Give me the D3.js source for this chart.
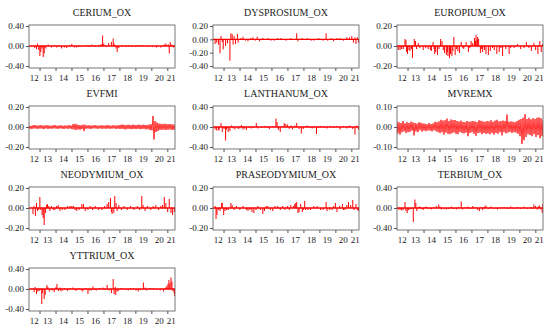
<!DOCTYPE html>
<html>
<head>
<meta charset="utf-8">
<script src="https://cdn.jsdelivr.net/npm/d3@7"></script>
<style>
  body { margin: 0; background: #fff; }
</style>
</head>
<body>
<svg id="chart" width="550" height="328"></svg>
<script>
// sample runs from about May 2012 to June 2021 (decimal years)
const startYear = 2012.34;
const endYear = 2021.48;
const yearTicks = [2013, 2014, 2015, 2016, 2017, 2018, 2019, 2020, 2021];
const yearLabels = ["12", "13", "14", "15", "16", "17", "18", "19", "20", "21"];

// sparse return series: [decimal year, return] for each visible jump, zero otherwise
const cerium = [[2012.70,-0.04],[2012.81,-0.06],[2012.87,0.05],[2012.95,-0.08],[2013.02,-0.20],[2013.08,-0.12],[2013.16,-0.05],[2013.23,-0.22],[2013.29,-0.15],[2013.39,-0.05],[2013.54,0.03],[2013.75,-0.03],[2013.92,0.02],[2014.07,-0.03],[2014.22,0.02],[2014.38,-0.05],[2014.55,-0.03],[2014.70,-0.04],[2014.87,0.02],[2015.02,0.04],[2015.18,-0.03],[2015.33,-0.03],[2015.48,-0.02],[2015.65,-0.02],[2015.96,0.02],[2016.11,-0.02],[2016.28,0.03],[2016.49,-0.02],[2016.70,0.02],[2016.85,0.04],[2016.95,0.21],[2017.02,0.05],[2017.16,-0.02],[2017.33,0.06],[2017.50,0.08],[2017.61,0.15],[2017.67,0.05],[2017.79,-0.05],[2017.86,-0.12],[2017.96,-0.04],[2018.17,0.02],[2018.38,-0.02],[2018.59,0.02],[2018.81,-0.02],[2019.02,-0.02],[2019.23,0.02],[2019.44,0.02],[2019.75,-0.02],[2020.07,-0.02],[2020.32,-0.03],[2020.59,-0.03],[2020.81,0.03],[2020.91,0.05],[2021.06,0.03],[2021.12,-0.15],[2021.18,0.08],[2021.29,0.03],[2021.39,-0.03]];

const dysprosium = [[2012.47,-0.07],[2012.57,-0.05],[2012.68,-0.08],[2012.78,-0.21],[2012.84,0.05],[2012.92,-0.04],[2012.98,-0.15],[2013.13,-0.10],[2013.25,-0.06],[2013.40,-0.32],[2013.46,0.09],[2013.54,0.08],[2013.60,-0.08],[2013.66,0.05],[2013.75,-0.07],[2013.87,0.08],[2013.91,-0.05],[2014.08,0.02],[2014.22,0.04],[2014.37,-0.02],[2014.53,-0.03],[2014.70,0.02],[2014.84,0.03],[2014.98,-0.02],[2015.11,0.04],[2015.25,-0.03],[2015.46,0.02],[2015.77,0.02],[2015.97,-0.02],[2016.18,-0.02],[2016.39,0.02],[2016.59,0.02],[2016.90,-0.02],[2017.21,0.02],[2017.58,0.09],[2017.66,-0.03],[2017.93,0.02],[2018.24,0.02],[2018.49,-0.02],[2018.65,-0.02],[2018.96,0.02],[2019.23,-0.02],[2019.42,0.09],[2019.52,-0.02],[2019.73,0.02],[2019.89,-0.03],[2020.10,0.02],[2020.30,0.02],[2020.51,-0.02],[2020.72,0.03],[2020.88,0.03],[2021.03,0.05],[2021.13,-0.05],[2021.23,0.03],[2021.29,-0.07],[2021.38,0.03],[2021.44,-0.05]];

const europium = [[2012.42,-0.04],[2012.53,-0.04],[2012.63,-0.03],[2012.73,-0.03],[2012.84,0.07],[2012.90,0.06],[2012.94,-0.06],[2013.00,-0.08],[2013.09,-0.04],[2013.15,-0.05],[2013.25,-0.03],[2013.31,-0.12],[2013.42,0.07],[2013.50,0.05],[2013.56,-0.03],[2013.67,0.03],[2013.77,-0.02],[2013.98,-0.04],[2014.14,-0.02],[2014.29,-0.03],[2014.43,-0.04],[2014.49,-0.05],[2014.60,0.04],[2014.66,-0.03],[2014.70,-0.08],[2014.76,-0.06],[2014.87,-0.09],[2014.97,-0.03],[2015.07,0.07],[2015.16,0.05],[2015.24,-0.04],[2015.32,-0.07],[2015.43,-0.09],[2015.49,-0.06],[2015.53,-0.10],[2015.63,-0.12],[2015.69,-0.08],[2015.78,-0.10],[2015.84,-0.05],[2015.90,0.09],[2015.98,-0.09],[2016.07,-0.03],[2016.15,-0.05],[2016.25,-0.07],[2016.36,0.04],[2016.46,-0.02],[2016.52,-0.03],[2016.67,0.04],[2016.81,-0.06],[2016.90,-0.02],[2016.98,0.05],[2017.08,0.03],[2017.19,0.08],[2017.25,0.05],[2017.29,0.11],[2017.35,0.06],[2017.39,0.09],[2017.45,0.07],[2017.56,-0.07],[2017.64,-0.03],[2017.70,-0.06],[2017.81,-0.04],[2017.91,-0.08],[2018.06,-0.09],[2018.18,-0.05],[2018.32,-0.02],[2018.43,-0.04],[2018.59,-0.08],[2018.74,-0.06],[2018.84,-0.02],[2018.95,-0.10],[2019.15,-0.03],[2019.36,-0.08],[2019.46,-0.02],[2019.67,-0.02],[2019.88,0.02],[2020.08,-0.03],[2020.29,-0.02],[2020.44,0.04],[2020.60,-0.02],[2020.75,-0.05],[2020.91,0.03],[2021.02,-0.04],[2021.16,-0.08],[2021.28,0.05],[2021.37,-0.06],[2021.45,0.02]];

const lanthanum = [[2012.47,-0.05],[2012.57,-0.07],[2012.68,-0.06],[2012.72,-0.07],[2012.84,0.08],[2012.92,-0.10],[2013.03,-0.04],[2013.13,-0.27],[2013.19,-0.05],[2013.29,-0.10],[2013.40,-0.08],[2013.50,0.03],[2013.60,-0.03],[2013.71,-0.05],[2013.91,-0.04],[2014.02,-0.03],[2014.12,0.04],[2014.22,-0.05],[2014.32,-0.03],[2014.43,-0.06],[2014.59,-0.02],[2014.74,-0.03],[2014.90,-0.02],[2015.05,0.08],[2015.15,-0.03],[2015.36,-0.02],[2015.56,0.02],[2015.73,-0.02],[2015.87,-0.04],[2016.08,0.02],[2016.28,0.17],[2016.35,0.10],[2016.43,-0.06],[2016.55,-0.10],[2016.68,0.02],[2016.80,0.08],[2016.90,0.06],[2017.01,0.05],[2017.11,-0.04],[2017.21,0.03],[2017.31,-0.05],[2017.46,0.03],[2017.58,0.08],[2017.73,-0.04],[2017.87,-0.13],[2017.99,-0.04],[2018.14,0.02],[2018.24,0.03],[2018.41,-0.02],[2018.55,-0.03],[2018.70,0.02],[2018.82,-0.14],[2018.94,-0.02],[2019.07,0.02],[2019.27,-0.02],[2019.48,-0.03],[2019.69,0.02],[2019.89,-0.02],[2020.10,0.02],[2020.30,-0.05],[2020.51,0.02],[2020.72,-0.03],[2020.82,0.02],[2020.92,0.03],[2021.09,-0.04],[2021.23,-0.15],[2021.34,0.03],[2021.44,-0.05]];

const neodymium = [[2012.59,-0.06],[2012.66,0.02],[2012.74,-0.08],[2012.81,0.05],[2012.87,-0.03],[2012.95,-0.02],[2013.02,0.11],[2013.08,-0.02],[2013.16,-0.07],[2013.23,-0.10],[2013.29,-0.17],[2013.37,-0.05],[2013.44,0.03],[2013.50,0.04],[2013.58,0.02],[2013.65,-0.03],[2013.75,0.02],[2013.86,-0.02],[2013.96,-0.02],[2014.07,0.02],[2014.17,0.03],[2014.28,-0.03],[2014.43,-0.02],[2014.59,-0.02],[2014.76,0.02],[2014.91,0.02],[2015.02,0.02],[2015.12,0.02],[2015.23,-0.02],[2015.33,-0.03],[2015.48,-0.02],[2015.65,0.04],[2015.75,0.04],[2015.86,-0.03],[2016.03,-0.02],[2016.17,0.02],[2016.32,-0.02],[2016.49,0.02],[2016.70,-0.02],[2016.91,-0.02],[2017.08,0.02],[2017.23,0.04],[2017.33,0.06],[2017.44,0.10],[2017.50,-0.04],[2017.54,-0.06],[2017.65,-0.05],[2017.71,0.12],[2017.79,0.05],[2017.86,-0.03],[2017.96,0.03],[2018.13,-0.02],[2018.28,0.02],[2018.49,-0.02],[2018.70,0.02],[2018.91,-0.02],[2019.12,0.02],[2019.27,-0.02],[2019.40,0.12],[2019.48,0.03],[2019.61,-0.03],[2019.75,0.02],[2019.96,-0.02],[2020.11,0.02],[2020.28,0.03],[2020.45,-0.02],[2020.59,0.02],[2020.70,0.03],[2020.81,0.11],[2020.91,0.05],[2021.02,-0.04],[2021.12,0.09],[2021.23,-0.05],[2021.33,-0.07],[2021.44,-0.04]];

const praseodymium = [[2012.47,0.02],[2012.53,-0.11],[2012.59,-0.07],[2012.68,-0.02],[2012.78,-0.03],[2012.88,0.05],[2012.92,0.05],[2013.01,-0.07],[2013.09,-0.03],[2013.19,-0.02],[2013.29,-0.02],[2013.46,0.05],[2013.54,0.03],[2013.66,-0.02],[2013.81,0.02],[2014.02,-0.02],[2014.22,0.02],[2014.43,-0.02],[2014.53,-0.03],[2014.65,-0.02],[2014.78,-0.04],[2014.90,-0.05],[2015.03,-0.02],[2015.15,0.02],[2015.31,-0.02],[2015.46,-0.06],[2015.56,-0.03],[2015.66,0.02],[2015.77,0.02],[2015.93,-0.02],[2016.08,-0.03],[2016.22,0.02],[2016.39,0.02],[2016.55,-0.02],[2016.70,0.02],[2016.84,-0.02],[2017.01,0.02],[2017.11,-0.02],[2017.21,0.03],[2017.38,0.02],[2017.46,0.04],[2017.52,0.05],[2017.58,0.06],[2017.66,-0.05],[2017.73,-0.04],[2017.83,0.04],[2017.93,-0.04],[2017.99,-0.02],[2018.08,0.07],[2018.14,-0.02],[2018.28,-0.02],[2018.45,-0.02],[2018.65,0.02],[2018.86,0.02],[2019.07,-0.02],[2019.23,-0.02],[2019.42,0.06],[2019.48,-0.03],[2019.65,-0.02],[2019.79,-0.02],[2019.89,0.02],[2020.00,0.05],[2020.10,-0.04],[2020.26,0.02],[2020.44,0.04],[2020.51,-0.02],[2020.61,-0.02],[2020.72,0.03],[2020.82,0.06],[2020.96,0.03],[2021.09,0.08],[2021.17,-0.02],[2021.29,0.04],[2021.38,-0.02],[2021.44,-0.03]];

const terbium = [[2012.42,-0.03],[2012.53,-0.04],[2012.63,-0.05],[2012.73,-0.04],[2012.84,0.12],[2012.90,-0.06],[2012.98,-0.10],[2013.07,-0.04],[2013.15,-0.03],[2013.25,-0.02],[2013.36,-0.28],[2013.46,0.17],[2013.52,0.10],[2013.58,-0.06],[2013.67,0.02],[2013.77,0.03],[2013.87,-0.02],[2013.98,-0.04],[2014.08,0.02],[2014.18,0.03],[2014.33,-0.02],[2014.49,-0.03],[2014.66,0.02],[2014.80,0.04],[2014.95,0.07],[2015.03,0.03],[2015.11,-0.03],[2015.28,-0.02],[2015.43,-0.03],[2015.57,-0.02],[2015.74,0.03],[2015.90,-0.02],[2016.05,-0.03],[2016.19,0.02],[2016.36,0.13],[2016.46,-0.03],[2016.61,0.02],[2016.77,0.03],[2016.94,-0.02],[2017.08,0.04],[2017.23,0.02],[2017.39,-0.04],[2017.50,-0.06],[2017.60,0.02],[2017.70,-0.04],[2017.81,0.03],[2017.91,0.05],[2018.06,-0.02],[2018.22,0.03],[2018.43,-0.02],[2018.63,-0.03],[2018.84,0.02],[2019.05,0.02],[2019.26,-0.02],[2019.46,0.03],[2019.67,-0.02],[2019.88,0.02],[2020.08,-0.02],[2020.29,0.03],[2020.50,-0.02],[2020.70,0.02],[2020.81,-0.02],[2020.91,0.07],[2021.02,0.04],[2021.12,-0.03],[2021.20,0.03],[2021.26,0.05],[2021.35,-0.03],[2021.43,-0.10],[2021.47,0.08]];

const yttrium = [[2012.66,-0.06],[2012.72,0.04],[2012.81,-0.10],[2012.89,-0.05],[2012.97,-0.04],[2013.06,-0.02],[2013.14,-0.30],[2013.18,-0.08],[2013.29,-0.20],[2013.35,-0.12],[2013.46,0.08],[2013.52,0.04],[2013.61,-0.05],[2013.71,-0.02],[2013.82,-0.03],[2013.92,-0.06],[2014.03,0.04],[2014.09,0.10],[2014.19,-0.04],[2014.28,0.03],[2014.34,-0.05],[2014.45,-0.03],[2014.55,0.02],[2014.66,-0.02],[2014.76,-0.04],[2014.91,0.02],[2015.08,0.03],[2015.18,-0.02],[2015.29,-0.04],[2015.46,0.02],[2015.61,-0.03],[2015.71,-0.05],[2015.88,0.02],[2016.03,-0.10],[2016.13,-0.03],[2016.24,-0.03],[2016.34,0.05],[2016.45,-0.02],[2016.55,-0.03],[2016.76,0.02],[2016.97,0.03],[2017.10,-0.02],[2017.23,0.08],[2017.36,-0.03],[2017.50,-0.08],[2017.61,0.20],[2017.67,-0.10],[2017.74,0.04],[2017.77,-0.12],[2017.86,-0.05],[2017.92,-0.04],[2018.06,0.02],[2018.24,0.02],[2018.41,-0.02],[2018.55,-0.03],[2018.70,0.02],[2018.87,0.02],[2019.04,-0.03],[2019.18,-0.05],[2019.33,-0.02],[2019.50,0.13],[2019.61,0.03],[2019.71,-0.03],[2019.92,0.02],[2020.13,0.02],[2020.34,-0.02],[2020.55,-0.03],[2020.76,-0.05],[2020.87,0.03],[2020.97,0.06],[2021.04,0.10],[2021.10,0.18],[2021.16,0.12],[2021.23,0.23],[2021.29,0.15],[2021.35,-0.04],[2021.42,-0.08],[2021.46,-0.14]];

// dense daily-looking index returns, one value per regular step from start to end
const evfmi = [0.015,-0.018,0.012,-0.02,0.018,-0.014,0.02,-0.016,0.013,-0.019,0.016,
  -0.015,0.02,-0.017,0.014,-0.021,0.016,-0.013,0.018,-0.02,0.015,-0.016,0.012,-0.018,0.017,-0.014,0.019,
  -0.016,0.013,-0.019,0.015,-0.014,0.018,-0.017,0.012,-0.02,0.016,-0.015,0.014,-0.018,0.02,-0.016,0.015,
  -0.022,0.028,-0.025,0.032,-0.03,0.026,-0.024,0.02,-0.028,0.018,-0.02,0.024,-0.042,0.022,-0.018,0.016,
  -0.015,0.018,-0.02,0.014,-0.017,0.016,-0.013,0.019,-0.016,0.015,-0.018,0.013,-0.014,0.017,-0.019,0.016,
  -0.016,0.014,-0.018,0.02,-0.015,0.017,-0.019,0.013,-0.016,0.018,-0.014,0.015,-0.02,0.016,-0.017,0.019,
  -0.02,0.022,-0.018,0.025,-0.022,0.019,-0.024,0.021,-0.018,0.023,-0.02,0.018,-0.022,0.024,-0.019,0.02,
  -0.021,0.02,-0.018,0.024,-0.022,0.019,-0.02,0.023,-0.019,0.021,-0.024,0.02,-0.022,0.025,-0.03,0.028,
  -0.035,0.11,-0.125,0.06,-0.05,0.045,-0.04,0.035,-0.03,0.032,-0.028,0.03,-0.026,0.033,-0.03,0.028,
  -0.027,0.03,-0.025,0.028,-0.03,0.026,-0.028,0.024];

const mvremx = [0.028,-0.032,0.024,-0.038,0.02,-0.026,0.03,-0.022,0.018,-0.03,0.024,
  -0.026,0.02,-0.024,0.027,-0.018,0.023,-0.042,0.02,-0.022,0.017,-0.026,0.024,-0.016,0.021,-0.023,0.018,
  -0.018,0.016,-0.021,0.014,-0.017,0.02,-0.018,0.015,-0.022,0.018,-0.016,0.026,-0.021,0.024,-0.026,0.028,
  -0.03,0.036,-0.026,0.032,-0.038,0.034,-0.028,0.042,-0.034,0.03,-0.036,0.038,-0.031,0.034,-0.027,0.035,
  -0.034,0.03,-0.036,0.027,-0.025,0.032,-0.03,0.025,-0.032,0.024,-0.028,0.03,-0.046,0.026,-0.03,0.028,
  -0.026,0.03,-0.034,0.028,-0.044,0.025,-0.03,0.034,-0.028,0.031,-0.036,0.028,-0.03,0.026,-0.034,0.03,
  -0.032,0.028,-0.036,0.034,-0.03,0.026,-0.038,0.032,-0.03,0.036,-0.034,0.028,-0.026,0.03,-0.042,0.032,
  -0.026,0.03,-0.032,0.062,-0.028,0.026,-0.024,0.028,-0.03,0.026,-0.026,0.024,-0.028,0.03,-0.034,0.036,
  -0.046,0.04,-0.085,0.046,-0.066,0.064,-0.05,0.04,-0.036,0.046,-0.04,0.038,-0.046,0.044,-0.036,0.04,
  -0.05,0.046,-0.04,0.048,-0.056,0.044,-0.046,0.036];

const panels = [
  {name: "CERIUM_OX",       data: cerium,       dense: false, domain: [-0.4, 0.4], ticks: [0.4, 0, -0.4]},
  {name: "DYSPROSIUM_OX",   data: dysprosium,   dense: false, domain: [-0.4, 0.2], ticks: [0.2, 0, -0.2, -0.4]},
  {name: "EUROPIUM_OX",     data: europium,     dense: false, domain: [-0.2, 0.2], ticks: [0.2, 0, -0.2]},
  {name: "EVFMI",           data: evfmi,        dense: true,  domain: [-0.2, 0.2], ticks: [0.2, 0, -0.2]},
  {name: "LANTHANUM_OX",    data: lanthanum,    dense: false, domain: [-0.4, 0.4], ticks: [0.4, 0, -0.4]},
  {name: "MVREMX",          data: mvremx,       dense: true,  domain: [-0.1, 0.1], ticks: [0.1, 0, -0.1]},
  {name: "NEODYMIUM_OX",    data: neodymium,    dense: false, domain: [-0.2, 0.2], ticks: [0.2, 0, -0.2]},
  {name: "PRASEODYMIUM_OX", data: praseodymium, dense: false, domain: [-0.2, 0.2], ticks: [0.2, 0, -0.2]},
  {name: "TERBIUM_OX",      data: terbium,      dense: false, domain: [-0.4, 0.4], ticks: [0.4, 0, -0.4]},
  {name: "YTTRIUM_OX",      data: yttrium,      dense: false, domain: [-0.4, 0.4], ticks: [0.4, 0, -0.4]}
];

const colLeft = [29, 213, 397];
const rowTop = [25, 106, 187, 268];
const pw = 146, ph = 43;
const red = "#ff0000";
const serif = "'Liberation Serif', 'Times New Roman', serif";

const svg = d3.select("#chart");

// label sits in the middle of each (possibly partial) year
const labelPos = yearLabels.map(function(s) {
  const yr = 2000 + (+s);
  const a = Math.max(yr, startYear), b = Math.min(yr + 1, endYear);
  return (a + b) / 2;
});

panels.forEach(function(p, i) {
  const g = svg.append("g")
      .attr("transform", "translate(" + colLeft[i % 3] + "," + rowTop[Math.floor(i / 3)] + ")");
  const x = d3.scaleLinear().domain([startYear, endYear]).range([0, pw]);
  const y = d3.scaleLinear().domain(p.domain).range([ph - 2, 1]);

  g.append("clipPath").attr("id", "clip" + i)
    .append("rect").attr("width", pw).attr("height", ph);
  const plot = g.append("g").attr("clip-path", "url(#clip" + i + ")");

  if (p.dense) {
    const step = (endYear - startYear) / (p.data.length - 1);
    const line = d3.line()
        .x(function(d, k) { return x(startYear + k * step); })
        .y(function(d) { return y(d); });
    plot.append("path")
        .attr("d", line(p.data))
        .attr("fill", "none")
        .attr("stroke", red)
        .attr("stroke-width", 0.8);
  } else {
    plot.append("line")
        .attr("x1", x(startYear)).attr("x2", x(endYear))
        .attr("y1", y(0)).attr("y2", y(0))
        .attr("stroke", red).attr("stroke-width", 1.4);
    plot.selectAll("line.spike")
        .data(p.data)
        .enter()
        .append("line")
        .attr("class", "spike")
        .attr("x1", function(d) { return x(d[0]); })
        .attr("x2", function(d) { return x(d[0]); })
        .attr("y1", y(0))
        .attr("y2", function(d) { return y(d[1]); })
        .attr("stroke", red)
        .attr("stroke-width", 1);
  }

  // frame
  g.append("rect")
      .attr("x", 0).attr("y", 0)
      .attr("width", pw).attr("height", ph)
      .attr("fill", "none")
      .attr("stroke", "#555")
      .attr("stroke-width", 0.8);

  const yAxis = g.append("g")
      .call(d3.axisLeft(y).tickValues(p.ticks).tickSize(3).tickPadding(2)
        .tickFormat(function(d) { return d.toFixed(2); }));
  yAxis.attr("font-family", serif).attr("font-size", 9);
  yAxis.select(".domain").remove();
  yAxis.selectAll("line").attr("stroke", "#555");
  yAxis.selectAll("text").attr("fill", "#222");

  const xAxis = g.append("g")
      .attr("transform", "translate(0," + ph + ")")
      .call(d3.axisBottom(x).tickValues(yearTicks).tickSize(3).tickFormat(""));
  xAxis.select(".domain").remove();
  xAxis.selectAll("line").attr("stroke", "#555");

  g.selectAll("text.xlab")
      .data(yearLabels)
      .enter()
      .append("text")
      .attr("class", "xlab")
      .attr("x", function(d, k) { return x(labelPos[k]); })
      .attr("y", ph + 13)
      .attr("text-anchor", "middle")
      .attr("font-family", serif)
      .attr("font-size", 9)
      .attr("fill", "#222")
      .text(function(d) { return d; });

  g.append("text")
      .attr("x", pw / 2)
      .attr("y", -9)
      .attr("text-anchor", "middle")
      .attr("font-family", serif)
      .attr("font-size", 10)
      .attr("fill", "#222")
      .text(p.name);
});
</script>
</body>
</html>
